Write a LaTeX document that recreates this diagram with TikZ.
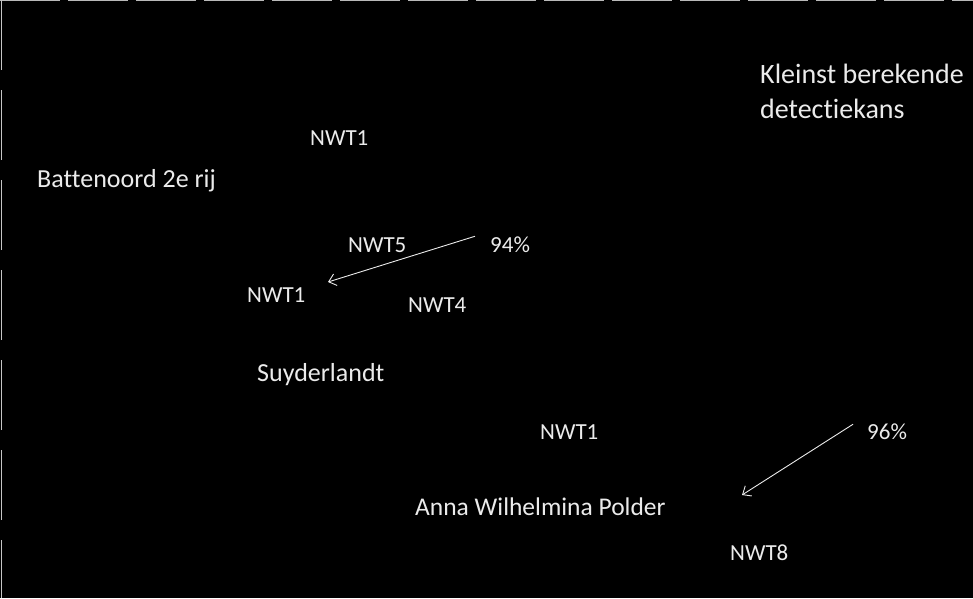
\documentclass[tikz,border=0pt]{standalone}
\usepackage{fontspec}
\setmainfont[Ligatures=NoCommon]{Carlito}
\usetikzlibrary{arrows.meta}
\begin{document}
\begin{tikzpicture}[x=1pt,y=-1pt,
  lbl/.style={text=white!92!black,anchor=base west,inner sep=0pt,font=\fontsize{26}{35}\selectfont},
  tag/.style={text=white!92!black,anchor=base west,inner sep=0pt,font=\fontsize{23}{28}\selectfont},
  conn/.style={draw=white!92!black,line width=0.9pt,-{Straight Barb[length=7pt,width=12pt]}}]
\useasboundingbox (0,0) rectangle (973,598);
\fill[black] (0,0) rectangle (973,598);
\draw[gray!55,line width=1pt,dash pattern=on 60pt off 8pt] (0,0.8) -- (973,0.8);
\draw[gray!45,line width=1pt,dash pattern=on 70pt off 20pt] (1.2,0) -- (1.2,598);
\node[lbl,align=left,anchor=north west,font=\fontsize{28}{35}\selectfont] (klein) at (760,64) {Kleinst berekende\\detectiekans};
\node[tag] (nwtA) at (310,145) {NWT1};
\node[lbl] (batt) at (37,187) {Battenoord 2e rij};
\node[tag] (nwtB) at (348,252) {NWT5};
\node[tag] (p94) at (490,252) {94\%};
\node[tag] (nwtC) at (247,302) {NWT1};
\node[tag] (nwtD) at (408,312) {NWT4};
\node[lbl] (suy) at (257,381) {Suyderlandt};
\node[tag] (nwtE) at (540,439) {NWT1};
\node[tag] (p96) at (867,439) {96\%};
\node[lbl,font=\fontsize{25.5}{35}\selectfont] (anna) at (415,515) {Anna Wilhelmina Polder};
\node[tag] (nwtF) at (730,560) {NWT8};
\coordinate (t94) at (328,282);
\coordinate (t96) at (742,495);
\draw[conn] (p94.west) ++(-15,-8) coordinate (s94) -- (t94);
\draw[conn] (p96.west) ++(-14,-7) coordinate (s96) -- (t96);
\end{tikzpicture}
\end{document}
